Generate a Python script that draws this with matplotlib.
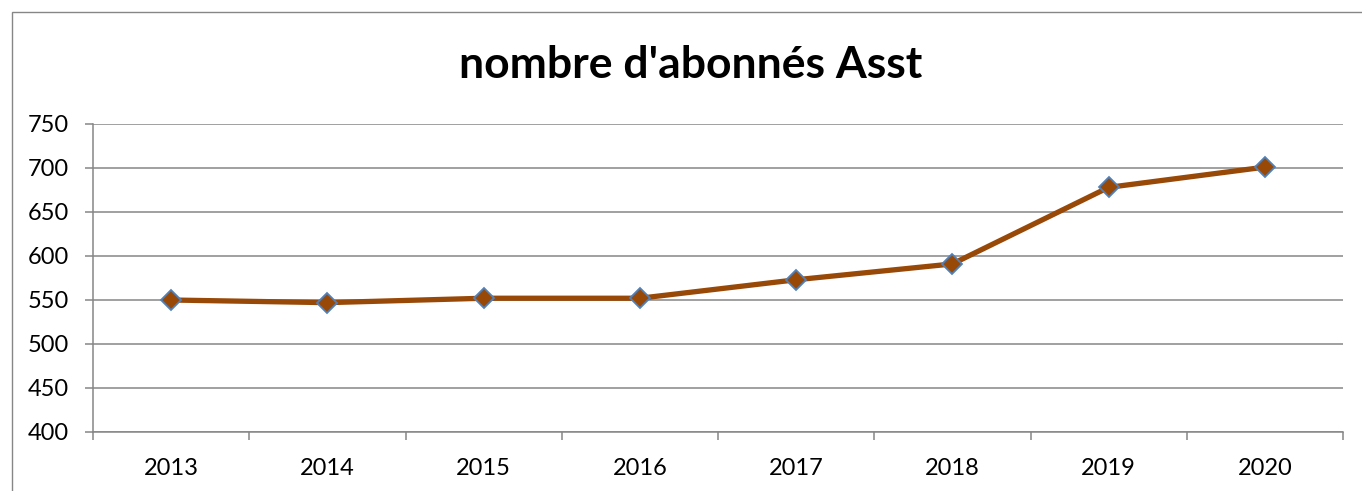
import matplotlib
matplotlib.use("Agg")
import matplotlib.pyplot as plt
import numpy as np
from matplotlib.patches import Rectangle

years = ["2013", "2014", "2015", "2016", "2017", "2018", "2019", "2020"]
abonnes = [550, 547, 552, 552, 573, 591, 678, 701]
title = "nombre d'abonnés Asst"
yticks = [400, 450, 500, 550, 600, 650, 700, 750]

plt.rcParams['font.family'] = ['Lato', 'DejaVu Sans']

W, H = 1362, 491
fig = plt.figure(figsize=(W / 100, H / 100), dpi=100)
fig.patch.set_facecolor("white")

grid_c = "#868686"
# outer chart border (left and top visible)
fig.patches.append(Rectangle((12 / W, -0.5), 2.0, 1 - 12 / H + 0.5,
                             transform=fig.transFigure, fill=False,
                             edgecolor=grid_c, linewidth=1.0))

ax = fig.add_axes([93 / W, 1 - 432 / H, (1343 - 93) / W, (432 - 124) / H])
x = np.arange(len(years))
ax.plot(x, abonnes, color="#984807", linewidth=3.8, marker="D",
        markersize=10.5, markerfacecolor="#984807", markeredgecolor="#4f81bd",
        markeredgewidth=1.3, zorder=3, clip_on=False)

ax.set_xlim(-0.5, len(years) - 0.5)
ax.set_ylim(min(yticks), max(yticks))
ax.set_yticks(yticks)
ax.set_yticklabels([str(v) for v in yticks])
ax.yaxis.grid(True, color=grid_c, linewidth=1.1)
ax.set_axisbelow(True)

ax.set_xticks(np.arange(-0.5, len(years), 1.0))
ax.set_xticklabels([])
ax.set_xticks(x, minor=True)
ax.set_xticklabels(years, minor=True)
ax.tick_params(axis="x", which="major", length=6, width=1.1, color=grid_c, direction="out")
ax.tick_params(axis="x", which="minor", length=0, pad=19, labelsize=17)
ax.tick_params(axis="y", length=5.5, width=1.1, color=grid_c, pad=12, labelsize=17)

for s in ["top", "right"]:
    ax.spines[s].set_visible(False)
for s in ["left", "bottom"]:
    ax.spines[s].set_color(grid_c)
    ax.spines[s].set_linewidth(1.1)

fig.text(691 / W, 1 - 65 / H, title, ha="center", va="center",
         fontsize=32, fontweight="bold")

fig.savefig("out.png", dpi=100, facecolor="white")
